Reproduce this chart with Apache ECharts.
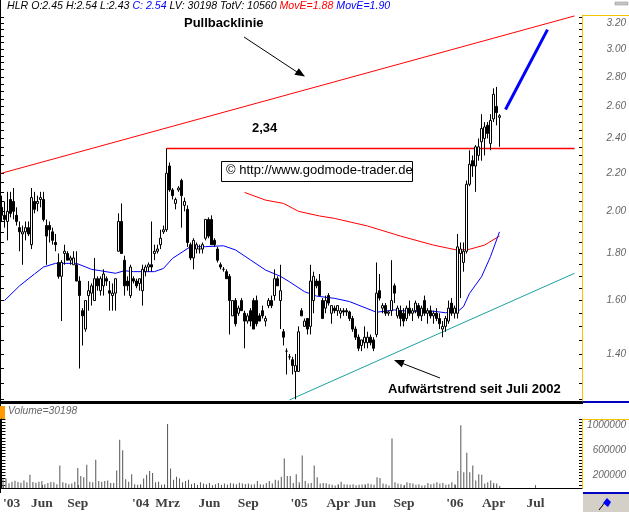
<!DOCTYPE html>
<html><head><meta charset="utf-8">
<script src="https://cdn.jsdelivr.net/npm/echarts@6/dist/echarts.min.js"></script>
<style>html,body{margin:0;padding:0;background:#fff;overflow:hidden}#c{width:629px;height:512px}</style>
</head><body><div id="c"></div>
<script>
// weekly candles: [open, high, low, close]
const ohlc = [
[2.02,2.08,1.95,1.98],[1.98,2.05,1.92,1.96],[1.95,2.10,1.86,2.00],[2.06,2.10,1.97,1.99],[2.05,2.12,1.96,2.00],
[1.98,2.02,1.93,1.95],[1.92,1.95,1.81,1.90],[1.89,1.93,1.75,1.90],[1.90,1.95,1.86,1.92],[1.92,1.95,1.88,1.89],
[1.84,2.12,1.82,2.07],[2.05,2.10,1.99,2.01],[2.04,2.08,2.00,2.05],[2.06,2.10,2.02,2.07],[2.06,2.10,1.95,1.96],
[1.93,1.96,1.75,1.88],[1.93,1.95,1.85,1.91],[1.90,1.92,1.84,1.86],[1.85,1.89,1.81,1.84],[1.76,1.80,1.69,1.70],
[1.70,1.77,1.52,1.76],[1.80,1.84,1.75,1.81],[1.80,1.81,1.77,1.77],[1.77,1.79,1.75,1.78],[1.75,1.81,1.75,1.78],
[1.75,1.81,1.68,1.68],[1.68,1.70,1.35,1.62],[1.56,1.57,1.43,1.54],[1.49,1.60,1.48,1.60],[1.62,1.68,1.56,1.64],
[1.63,1.67,1.58,1.66],[1.60,1.78,1.60,1.69],[1.69,1.70,1.64,1.66],[1.64,1.70,1.62,1.69],[1.66,1.73,1.62,1.71],
[1.69,1.70,1.66,1.68],[1.64,1.68,1.56,1.63],[1.62,1.67,1.56,1.63],[1.63,1.69,1.56,1.69],[1.81,1.99,1.81,1.95],
[1.95,2.04,1.80,1.80],[1.77,1.79,1.62,1.66],[1.68,1.70,1.64,1.66],[1.62,1.75,1.61,1.74],[1.69,1.70,1.67,1.68],
[1.68,1.69,1.65,1.66],[1.67,1.69,1.64,1.69],[1.64,1.75,1.58,1.73],[1.72,1.75,1.70,1.74],[1.74,1.76,1.72,1.75],
[1.75,1.95,1.72,1.74],[1.80,1.84,1.77,1.81],[1.81,1.84,1.80,1.82],[1.84,1.91,1.82,1.87],[1.90,1.93,1.89,1.91],
[1.91,2.34,1.90,2.20],[2.24,2.26,2.10,2.11],[2.11,2.12,2.06,2.08],[2.04,2.07,2.01,2.06],[2.11,2.13,2.10,2.12],
[2.16,2.17,1.92,2.08],[2.03,2.07,2.00,2.05],[2.01,2.03,1.83,1.85],[1.84,1.85,1.77,1.78],[1.78,1.87,1.73,1.86],
[1.82,1.85,1.80,1.84],[1.82,1.84,1.80,1.82],[1.82,1.85,1.80,1.84],[1.87,1.96,1.86,1.96],[1.96,1.97,1.87,1.88],
[1.96,1.98,1.84,1.84],[1.86,1.87,1.83,1.84],[1.82,1.83,1.76,1.77],[1.75,1.76,1.73,1.74],[1.73,1.74,1.72,1.73],
[1.72,1.73,1.69,1.69],[1.70,1.71,1.47,1.60],[1.54,1.60,1.54,1.60],[1.60,1.61,1.50,1.51],[1.55,1.58,1.54,1.57],
[1.60,1.61,1.56,1.56],[1.55,1.56,1.42,1.52],[1.52,1.55,1.51,1.54],[1.56,1.57,1.50,1.52],[1.60,1.61,1.49,1.49],
[1.60,1.62,1.50,1.51],[1.54,1.55,1.52,1.52],[1.56,1.58,1.53,1.54],[1.52,1.54,1.50,1.53],[1.58,1.61,1.57,1.60],
[1.60,1.62,1.57,1.58],[1.62,1.73,1.60,1.69],[1.69,1.70,1.66,1.66],[1.60,1.75,1.49,1.64],[1.48,1.49,1.43,1.46],
[1.41,1.42,1.33,1.41],[1.39,1.40,1.38,1.39],[1.38,1.39,1.33,1.36],[1.34,1.40,1.25,1.36],[1.34,1.50,1.34,1.48],
[1.56,1.57,1.54,1.54],[1.50,1.53,1.50,1.52],[1.53,1.53,1.47,1.49],[1.50,1.75,1.47,1.68],[1.60,1.72,1.55,1.70],
[1.68,1.69,1.65,1.66],[1.68,1.71,1.62,1.62],[1.60,1.61,1.53,1.53],[1.57,1.62,1.55,1.60],[1.62,1.63,1.58,1.59],
[1.55,1.58,1.51,1.58],[1.57,1.58,1.55,1.56],[1.56,1.58,1.54,1.58],[1.55,1.57,1.53,1.56],[1.56,1.57,1.54,1.555],
[1.56,1.57,1.54,1.555],[1.555,1.56,1.52,1.53],[1.53,1.54,1.48,1.49],[1.49,1.50,1.45,1.46],[1.46,1.47,1.41,1.42],
[1.43,1.45,1.41,1.45],[1.44,1.50,1.42,1.46],[1.44,1.48,1.42,1.46],[1.46,1.47,1.43,1.44],[1.45,1.46,1.41,1.42],
[1.47,1.76,1.46,1.63],[1.64,1.71,1.60,1.61],[1.57,1.59,1.55,1.58],[1.58,1.59,1.54,1.55],[1.55,1.56,1.54,1.555],
[1.56,1.77,1.54,1.60],[1.66,1.67,1.59,1.63],[1.54,1.58,1.53,1.57],[1.56,1.58,1.50,1.53],[1.55,1.57,1.50,1.52],
[1.53,1.58,1.52,1.57],[1.57,1.60,1.54,1.55],[1.55,1.57,1.52,1.56],[1.56,1.60,1.55,1.59],[1.58,1.59,1.53,1.54],
[1.54,1.58,1.52,1.57],[1.60,1.62,1.54,1.55],[1.55,1.57,1.51,1.56],[1.56,1.58,1.53,1.54],[1.54,1.56,1.51,1.55],
[1.55,1.57,1.52,1.53],[1.53,1.55,1.49,1.51],[1.49,1.52,1.46,1.50],[1.50,1.54,1.48,1.53],[1.52,1.60,1.51,1.57],
[1.59,1.61,1.54,1.55],[1.55,1.58,1.53,1.57],[1.55,1.89,1.53,1.83],[1.80,1.85,1.61,1.82],[1.76,1.85,1.72,1.81],
[1.81,2.16,1.80,2.14],[2.14,2.33,2.13,2.25],[2.27,2.30,2.18,2.24],[2.24,2.36,2.10,2.35],[2.30,2.40,2.27,2.35],
[2.38,2.55,2.27,2.46],[2.40,2.50,2.30,2.47],[2.48,2.50,2.40,2.43],[2.37,2.55,2.33,2.51],[2.52,2.72,2.50,2.68],
[2.60,2.73,2.48,2.56],[2.53,2.55,2.35,2.54]
];
// weekly volume (shares)
const volume = [
140000,150000,75000,100000,115000,95000,85000,120000,90000,210000,
95000,85000,100000,110000,60000,80000,95000,90000,60000,360000,
90000,80000,60000,70000,100000,320000,190000,170000,370000,100000,
90000,450000,110000,100000,110000,120000,80000,80000,280000,770000,
600000,140000,100000,220000,60000,50000,60000,150000,210000,270000,
240000,90000,100000,50000,60000,1020000,310000,130000,180000,150000,
90000,110000,130000,60000,80000,50000,90000,70000,60000,80000,
45000,60000,80000,50000,70000,55000,80000,70000,60000,85000,
70000,65000,70000,55000,60000,110000,60000,55000,80000,110000,
70000,130000,120000,180000,470000,190000,190000,80000,220000,90000,
520000,110000,70000,80000,360000,170000,70000,80000,75000,60000,
50000,40000,60000,100000,60000,55000,50000,60000,45000,50000,
55000,60000,70000,60000,50000,170000,160000,70000,60000,40000,
790000,90000,70000,60000,40000,90000,80000,70000,50000,60000,
40000,45000,80000,60000,70000,90000,70000,80000,50000,60000,
90000,60000,270000,1000000,250000,560000,250000,360000,120000,220000,
210000,70000,90000,120000,80000,70000,30198
];
// moving averages [week index, value]
const maBlue = [[1,1.60],[6,1.66],[11,1.71],[14,1.74],[18,1.756],[25,1.756],[30,1.73],[33,1.724],[38,1.713],[41,1.724],[44,1.72],[51,1.72],[54,1.734],[57,1.778],[63,1.831],[68,1.831],[74,1.835],[78,1.816],[83,1.771],[88,1.727],[93,1.70],[96,1.677],[101,1.636],[105,1.618],[111,1.609],[116,1.596],[125,1.554],[131,1.563],[137,1.556],[144,1.558],[148,1.552],[152,1.556],[154,1.576],[156,1.629],[160,1.698],[163,1.786],[166,1.90]];
const maRed = [[81,2.097],[88,2.057],[94,2.04],[99,2.0],[106,1.977],[111,1.965],[122,1.928],[133,1.88],[144,1.838],[152,1.815],[156,1.819],[161,1.838],[166,1.88]];
// drawn lines [week index, value]
const pullbackLine = [[0,2.20],[191,3.26]];
const uptrendLine = [[96,1.248],[191,1.713]];
const resistanceLine = [[55,2.34],[191,2.34]];
const projectionLine = [[168,2.58],[182,3.15]];
const lastClose = 2.54;
// axes
const totalWeeks = 194;
const xTickIndex = [0,13,25,46,55,69,82,99,112,121,134,151,164,178];
const xTickLabels = ["'03","Jun","Sep","'04","Mrz","Jun","Sep","'05","Apr","Jun","Sep","'06","Apr","Jul"];
const priceTicks = [1.40,1.60,1.80,2.00,2.20,2.40,2.60,2.80,3.00,3.20];
const volumeTicks = [200000,600000,1000000];

const L = Math.log;
const weeks = Array.from({length: totalWeeks}, (_, i) => String(i));
const minorPrice = []; for (let k = 25; k <= 65; k++) minorPrice.push(L(k * 0.05));
const minorVol = []; for (let k = 0; k <= 22; k++) minorVol.push(k * 50000);
const labelMap = {}; xTickIndex.forEach((ix, k) => labelMap[ix] = xTickLabels[k]);
const pMin = L(1.2447), pMax = L(3.2677);
const lnPairs = arr => arr.map(([x, v]) => [x, L(v)]);

const chart = echarts.init(document.getElementById('c'), null, {renderer: 'canvas'});
const axisFont = {fontFamily: 'Liberation Sans, Arial', fontStyle: 'italic', fontSize: 10, color: '#666'};
const hdr = (c) => ({fill: c, fontStyle: 'italic', fontSize: 10.6, fontFamily: 'Liberation Sans, Arial'});

chart.setOption({
  animation: false,
  backgroundColor: '#fff',
  grid: [
    {left: 0, right: 46, top: 15, height: 386},
    {left: 0, right: 46, top: 419, height: 69}
  ],
  xAxis: [
    {type: 'category', gridIndex: 0, data: weeks, boundaryGap: true, axisLine: {show: false}, axisTick: {show: false}, axisLabel: {show: false}, splitLine: {show: false}},
    {type: 'category', gridIndex: 1, data: weeks, boundaryGap: true, offset: 4,
      axisLine: {show: true, lineStyle: {color: '#000', width: 1}},
      axisTick: {show: true, inside: true, length: 3, alignWithLabel: true, interval: (i) => labelMap[i] !== undefined, lineStyle: {color: '#666'}},
      axisLabel: {show: true, interval: (i) => labelMap[i] !== undefined, formatter: (v, i) => labelMap[i] || '', margin: 5, alignMinLabel: 'left',
        fontFamily: 'Liberation Sans Narrow, Arial Narrow', fontWeight: 'bold', fontSize: 13.5, color: '#404040'},
      splitLine: {show: false}}
  ],
  yAxis: [
    {type: 'value', gridIndex: 0, position: 'right', min: pMin, max: pMax, scale: true,
      axisLine: {show: true, onZero: false, lineStyle: {color: '#f5c400', width: 1}},
      axisTick: {show: true, inside: true, length: 3, customValues: minorPrice, lineStyle: {color: '#000'}},
      axisLabel: Object.assign({show: true, customValues: priceTicks.map(L), formatter: v => Math.exp(v).toFixed(2), align: 'right', margin: 44}, axisFont),
      splitLine: {show: false}},
    {type: 'value', gridIndex: 0, position: 'left', min: pMin, max: pMax, scale: true,
      axisLine: {show: true, onZero: false, lineStyle: {color: '#000', width: 1}},
      axisTick: {show: true, inside: true, length: 4, customValues: minorPrice, lineStyle: {color: '#000'}},
      axisLabel: {show: false}, splitLine: {show: false}},
    {type: 'value', gridIndex: 1, position: 'right', min: 0, max: 1100000,
      axisLine: {show: true, lineStyle: {color: '#f5c400', width: 1}},
      axisTick: {show: true, inside: true, length: 3, customValues: minorVol, lineStyle: {color: '#000'}},
      axisLabel: Object.assign({show: true, customValues: volumeTicks, formatter: v => String(Math.round(v)), align: 'right', margin: 44}, axisFont),
      splitLine: {show: false}},
    {type: 'value', gridIndex: 1, position: 'left', min: 0, max: 1100000,
      axisLine: {show: true, lineStyle: {color: '#000', width: 1}},
      axisTick: {show: true, inside: true, length: 4, customValues: minorVol, lineStyle: {color: '#000'}},
      axisLabel: {show: false}, splitLine: {show: false}}
  ],
  series: [
    {type: 'line', xAxisIndex: 0, yAxisIndex: 0, data: lnPairs(pullbackLine), symbol: 'none', lineStyle: {color: '#ff0000', width: 1}, z: 2},
    {type: 'line', xAxisIndex: 0, yAxisIndex: 0, data: lnPairs(uptrendLine), symbol: 'none', lineStyle: {color: '#1aa0a0', width: 1}, z: 2},
    {type: 'line', xAxisIndex: 0, yAxisIndex: 0, data: lnPairs(resistanceLine), symbol: 'none', lineStyle: {color: '#ff0000', width: 1.5}, z: 2},
    {type: 'line', xAxisIndex: 0, yAxisIndex: 0, data: lnPairs(maRed), symbol: 'none', lineStyle: {color: '#ff0000', width: 1}, z: 3},
    {type: 'line', xAxisIndex: 0, yAxisIndex: 0, data: lnPairs(maBlue), symbol: 'none', lineStyle: {color: '#0000ff', width: 1}, z: 3},
    {type: 'candlestick', xAxisIndex: 0, yAxisIndex: 0, barWidth: 3,
      data: ohlc.map(([o, h, l, c]) => [L(o), L(c), L(l), L(h)]),
      itemStyle: {color: '#fff', color0: '#000', borderColor: '#000', borderColor0: '#000', borderWidth: 1},
      markLine: {silent: true, symbol: 'none', data: [{yAxis: L(lastClose)}], lineStyle: {opacity: 0},
        label: {show: true, position: 'end', distance: 1, formatter: lastClose.toFixed(2), backgroundColor: '#000', color: '#fff', padding: [1, 2, 0, 2],
          fontFamily: 'Liberation Sans, Arial', fontStyle: 'italic', fontSize: 10}}, z: 4},
    {type: 'line', xAxisIndex: 0, yAxisIndex: 0, data: lnPairs(projectionLine), symbol: 'none', lineStyle: {color: '#0000ff', width: 3}, z: 5},
    {type: 'bar', xAxisIndex: 1, yAxisIndex: 2, data: volume, barWidth: 1, itemStyle: {color: '#555'}}
  ],
  graphic: [
    {type: 'text', left: 7, top: 1, style: {
      text: '{k|HLR O:2.45 H:2.54 L:2.43 }{b|C: 2.54 }{k|LV: 30198 TotV: 10560 }{r|MovE=1.88 }{b|MovE=1.90}',
      rich: {k: hdr('#000'), b: hdr('#0000ff'), r: hdr('#ff0000')}}},
    {type: 'rect', shape: {x: 615, y: 2, width: 13, height: 3}, style: {fill: '#c8c8c8', stroke: '#888', lineWidth: 0.5}},
    {type: 'line', shape: {x1: 0.5, y1: 0, x2: 0.5, y2: 15}, style: {stroke: '#000', lineWidth: 1}},
    {type: 'line', shape: {x1: 583, y1: 15.5, x2: 629, y2: 15.5}, style: {stroke: '#f5c400', lineWidth: 1}},
    {type: 'rect', shape: {x: 0, y: 401, width: 583, height: 3}, style: {fill: '#000'}},
    {type: 'rect', shape: {x: 583, y: 401, width: 46, height: 2}, style: {fill: '#0000c0'}},
    {type: 'line', shape: {x1: 583, y1: 419.5, x2: 629, y2: 419.5}, style: {stroke: '#f5c400', lineWidth: 1}},
    {type: 'line', shape: {x1: 0.5, y1: 404, x2: 0.5, y2: 493}, style: {stroke: '#000', lineWidth: 1}},
    {type: 'rect', shape: {x: 0, y: 406, width: 5, height: 13}, style: {fill: '#ff9900'}},
    {type: 'text', left: 8, top: 406, style: {text: 'Volume=30198', fill: '#666', fontStyle: 'italic', fontSize: 10.3, fontFamily: 'Liberation Sans, Arial'}},
    {type: 'rect', shape: {x: 583, y: 494, width: 46, height: 18}, style: {fill: '#d4d0c8'}},
    {type: 'rect', shape: {x: 583, y: 492, width: 46, height: 2}, style: {fill: '#0000c0'}},
    {type: 'line', shape: {x1: 599, y1: 510, x2: 606, y2: 501}, style: {stroke: '#000', lineWidth: 1}},
    {type: 'polygon', shape: {points: [[603, 503], [607, 498], [611, 502], [608, 507]]}, style: {fill: '#0000ff'}},
    {type: 'text', left: 184, top: 17, style: {text: 'Pullbacklinie', fill: '#000', fontWeight: 'bold', fontSize: 13, fontFamily: 'Liberation Sans, Arial'}},
    {type: 'line', shape: {x1: 244, y1: 37, x2: 297, y2: 72}, style: {stroke: '#000', lineWidth: 1}},
    {type: 'polygon', shape: {points: [[305, 76.5], [294.4, 74.8], [298.8, 68.2]]}, style: {fill: '#000'}},
    {type: 'text', left: 252, top: 122, style: {text: '2,34', fill: '#000', fontWeight: 'bold', fontSize: 13, fontFamily: 'Liberation Sans, Arial'}},
    {type: 'rect', shape: {x: 221.5, y: 161.5, width: 191, height: 20}, style: {fill: '#fff', stroke: '#000', lineWidth: 1}, z: 10},
    {type: 'text', left: 226, top: 164, z: 11, style: {text: '\u00a9 http://www.godmode-trader.de', fill: '#000', fontSize: 13, fontFamily: 'Liberation Sans, Arial'}},
    {type: 'text', left: 388, top: 383, style: {text: 'Aufw\u00e4rtstrend seit Juli 2002', fill: '#000', fontWeight: 'bold', fontSize: 13, fontFamily: 'Liberation Sans, Arial'}},
    {type: 'line', shape: {x1: 440, y1: 378, x2: 403, y2: 363.6}, style: {stroke: '#000', lineWidth: 1}},
    {type: 'polygon', shape: {points: [[394, 360], [404.8, 359.9], [401.8, 367.3]]}, style: {fill: '#000'}}
  ]
});
</script>
</body></html>
